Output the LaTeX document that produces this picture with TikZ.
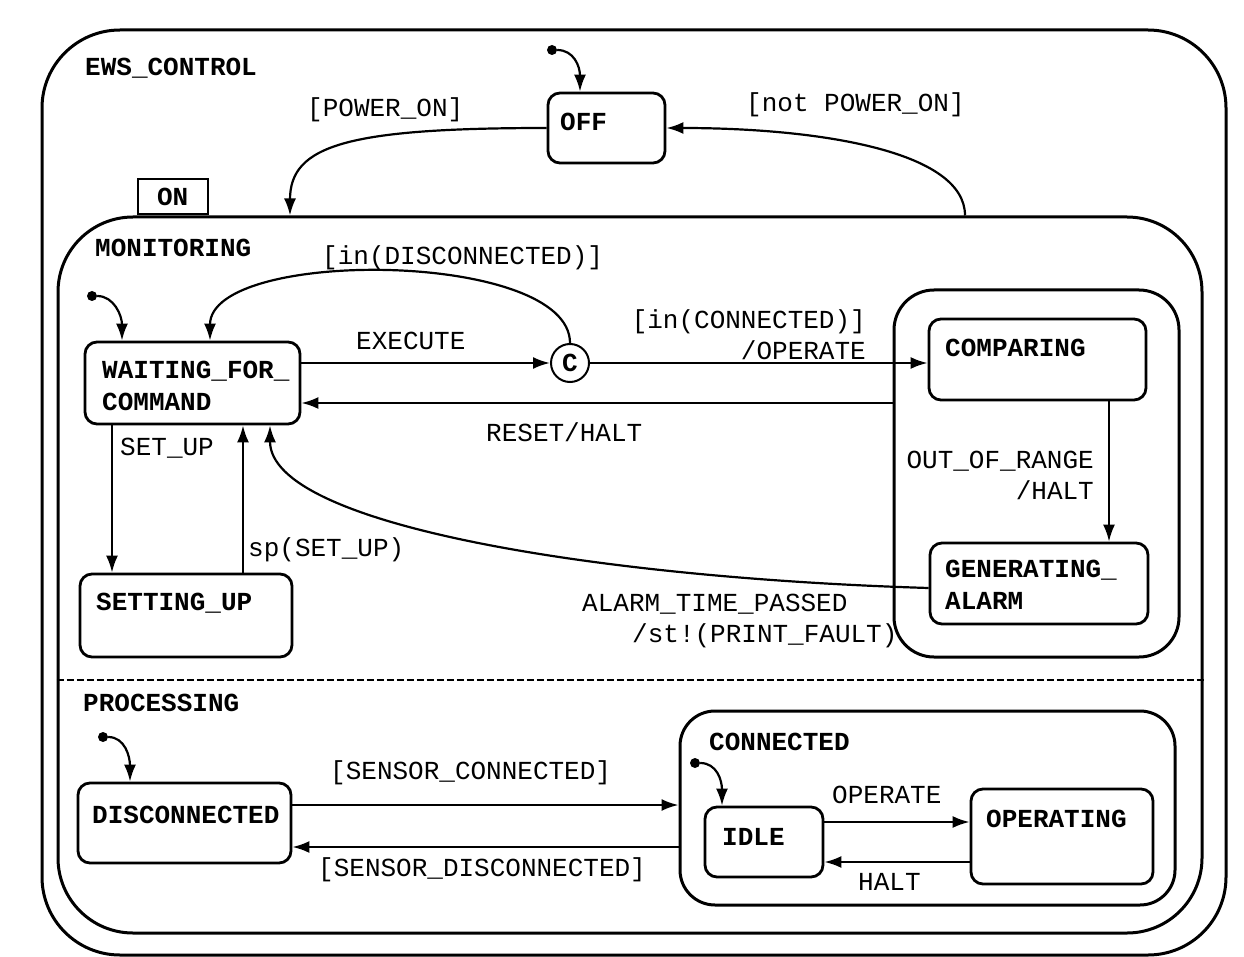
\documentclass[tikz,border=0pt]{standalone}
\usepackage{fontspec}
\newfontfamily\courfont{Liberation Mono}
\usetikzlibrary{arrows.meta}
\newcommand{\trfont}{\courfont\fontsize{26}{31}\selectfont}
\newcommand{\stfont}{\courfont\bfseries\fontsize{26}{32}\selectfont}

\begin{document}
\begin{tikzpicture}[x=1pt, y=-1pt, >={Latex[length=17pt, width=12pt]},
  state/.style={draw, line width=2.8pt, rounded corners=12pt, inner sep=0pt},
  chart/.style={draw, line width=3pt, inner sep=0pt},
  trans/.style={->, line width=2.2pt},
  init/.style={circle, fill, inner sep=0pt, minimum size=10pt},
  trlabel/.style={font=\trfont, inner sep=0pt, anchor=west},
  stlabel/.style={font=\stfont, inner sep=0pt, anchor=west}]
  \useasboundingbox (0,0) rectangle (1244,957);
  % superstates
  \node[chart, rounded corners=78pt, minimum width=1184pt, minimum height=925pt] (ews) at (634,492.5) {};
  \node[chart, rounded corners=75pt, minimum width=1144pt, minimum height=716pt] (on) at (630,575) {};
  \node[chart, line width=2.5pt, minimum width=70pt, minimum height=35pt, anchor=south west, font=\stfont] (ontab) at ([xshift=80pt]on.north west) {ON};
  \draw[line width=2.5pt, dash pattern=on 7pt off 3pt] ([yshift=-105pt]on.west) -- ([yshift=-105pt]on.east);
  \node[chart, rounded corners=40pt, minimum width=285pt, minimum height=367pt] (check) at (1036.5,473.5) {};
  \node[chart, rounded corners=35pt, minimum width=495pt, minimum height=194pt] (conn) at (927.5,808) {};
  % states
  \node[state, minimum width=117pt, minimum height=70pt] (off) at (606.5,128) {};
  \node[state, minimum width=215pt, minimum height=82pt] (wait) at (192.5,383) {};
  \node[state, minimum width=212pt, minimum height=83pt] (setup) at (186,615.5) {};
  \node[state, minimum width=217pt, minimum height=81pt] (cmp) at (1037.5,359.5) {};
  \node[state, minimum width=218pt, minimum height=81pt] (alarm) at (1039,583.5) {};
  \node[state, minimum width=213pt, minimum height=80pt] (disc) at (184.5,823) {};
  \node[state, minimum width=118pt, minimum height=70pt] (idle) at (764,842) {};
  \node[state, minimum width=182pt, minimum height=95pt] (oper) at (1062,836.5) {};
  \node[draw, circle, line width=2pt, minimum size=38pt, inner sep=0pt, font=\stfont] (cond) at (570,363) {C};
  % state names
  \node[stlabel] (nEws) at (85,68) {EWS\_CONTROL};
  \node[stlabel] (nMon) at (95,248) {MONITORING};
  \node[stlabel] (nProc) at (83,703) {PROCESSING};
  \node[stlabel] (nOff) at (560,122) {OFF};
  \node[stlabel, align=left] (nWait) at (102,386) {WAITING\_FOR\_\\COMMAND};
  \node[stlabel] (nSetup) at (96,603) {SETTING\_UP};
  \node[stlabel] (nCmp) at (945,348) {COMPARING};
  \node[stlabel, align=left] (nAlarm) at (945,585) {GENERATING\_\\ALARM};
  \node[stlabel] (nDisc) at (92,815) {DISCONNECTED};
  \node[stlabel] (nConn) at (709,742) {CONNECTED};
  \node[stlabel] (nIdle) at (722,837) {IDLE};
  \node[stlabel] (nOper) at (986,819) {OPERATING};
  % initial states
  \node[init] (i0) at (552,50) {};
  \node[init] (i1) at (92,296) {};
  \node[init] (i2) at (103,737) {};
  \node[init] (i3) at (695,763) {};
  % transitions
  \draw[trans] (i0) .. controls +(22,0) and +(0,-25) .. ([xshift=-26.5pt]off.north);
  \draw[trans] (off.west) .. controls +(-200,0) and +(0,-70) .. ([xshift=-340pt]on.north);
  \draw[trans] ([xshift=335pt]on.north) .. controls +(0,-65) and +(150,0) .. (off.east);
  \draw[trans] (i1) .. controls +(22,0) and +(0,-25) .. ([xshift=-70.5pt]wait.north);
  \draw[trans] ([yshift=20pt]wait.east) -- (cond.west);
  \draw[trans] (cond.north) .. controls +(0,-93) and +(0,-93) .. ([xshift=17.5pt]wait.north);
  \draw[trans] (cond.east) -- (cond.east -| cmp.west);
  \draw[trans] ([yshift=70.5pt]check.west) -- ([yshift=-20pt]wait.east);
  \draw[trans] ([xshift=-80.5pt]wait.south) -- ([xshift=-74pt]setup.north);
  \draw[trans] ([xshift=57pt]setup.north) -- ([xshift=50.5pt]wait.south);
  \draw[trans] ([xshift=71.5pt]cmp.south) -- ([xshift=70pt]alarm.north);
  \draw[trans] ([yshift=-4.5pt]alarm.west) .. controls +(-330,-10) and +(0,100) .. ([xshift=77.5pt]wait.south);
  \draw[trans] (i2) .. controls +(22,0) and +(0,-25) .. ([xshift=-54.5pt]disc.north);
  \draw[trans] ([yshift=18pt]disc.east) -- ([yshift=3pt]conn.west);
  \draw[trans] ([yshift=-39pt]conn.west) -- ([yshift=-24pt]disc.east);
  \draw[trans] (i3) .. controls +(22,0) and +(0,-25) .. ([xshift=-42pt]idle.north);
  \draw[trans] ([yshift=20pt]idle.east) -- ([yshift=14.5pt]oper.west);
  \draw[trans] ([yshift=-25.5pt]oper.west) -- ([yshift=-20pt]idle.east);
  % transition labels
  \node[trlabel] (lPwr) at (307,110) {[POWER\_ON]};
  \node[trlabel] (lNotPwr) at (746,105) {[not POWER\_ON]};
  \node[trlabel] (lInDisc) at (322,258) {[in(DISCONNECTED)]};
  \node[trlabel] (lExec) at (356,341) {EXECUTE};
  \node[trlabel, anchor=east, align=right] (lInConn) at (866,335) {[in(CONNECTED)]\\/OPERATE};
  \node[trlabel] (lReset) at (486,432) {RESET/HALT};
  \node[trlabel] (lSetup) at (120,448) {SET\_UP};
  \node[trlabel] (lSp) at (248,550) {sp(SET\_UP)};
  \node[trlabel, anchor=east, align=right] (lRange) at (1094,475) {OUT\_OF\_RANGE\\/HALT};
  \node[trlabel, align=left] (lTime) at (582,620.5) {ALARM\_TIME\_PASSED\\\hspace*{50pt}/st!(PRINT\_FAULT)};
  \node[trlabel] (lSensC) at (330,773) {[SENSOR\_CONNECTED]};
  \node[trlabel] (lSensD) at (318,870) {[SENSOR\_DISCONNECTED]};
  \node[trlabel] (lOperate) at (832,795) {OPERATE};
  \node[trlabel] (lHalt) at (858,882) {HALT};
\end{tikzpicture}
\end{document}
